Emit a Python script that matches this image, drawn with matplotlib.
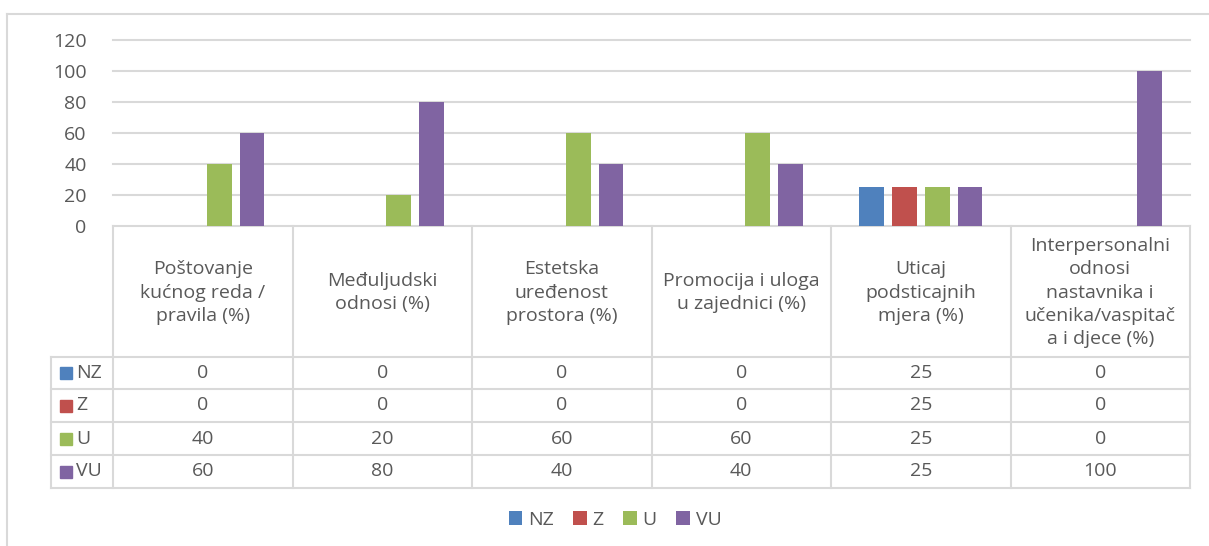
import numpy as np
import matplotlib.pyplot as plt
from matplotlib.lines import Line2D
from matplotlib.patches import Rectangle

plt.rc('font', family=['Open Sans', 'DejaVu Sans'], size=14)

kategorije = ['Poštovanje\nkućnog reda /\npravila (%)',
              'Međuljudski\nodnosi (%)',
              'Estetska\nuređenost\nprostora (%)',
              'Promocija i uloga\nu zajednici (%)',
              'Uticaj\npodsticajnih\nmjera (%)',
              'Interpersonalni\nodnosi\nnastavnika i\nučenika/vaspitač\na i djece (%)']
serije = ['NZ', 'Z', 'U', 'VU']
nz = [0, 0, 0, 0, 25, 0]
z = [0, 0, 0, 0, 25, 0]
u = [40, 20, 60, 60, 25, 0]
vu = [60, 80, 40, 40, 25, 100]
boje = ['#4F81BD', '#C0504D', '#9BBB59', '#8064A2']
y_ticks = [0, 20, 40, 60, 80, 100, 120]

vrijednosti = [nz, z, u, vu]
siva = '#D9D9D9'
tekst = '#595959'
fs = 14

W, H = 1209, 546
fig = plt.figure(figsize=(W / 100, H / 100), dpi=100)

# pixel layout of the Excel chart
x0, x1 = 113, 1190
y_top, y_zero = 40, 226
red_y = [357, 389, 422, 455, 488]
lab_x = 51

ax = fig.add_axes([x0 / W, 1 - y_zero / H, (x1 - x0) / W, (y_zero - y_top) / H])
n = len(kategorije)
x = np.arange(n)
sirina = 0.139
korak = 0.183
bars = []
for i, (naziv, vals) in enumerate(zip(serije, vrijednosti)):
    b = ax.bar(x + (i - 1.5) * korak, vals, sirina, color=boje[i], label=naziv, zorder=3)
    bars.append(b)
ax.set_xlim(-0.5, n - 0.5)
ax.set_ylim(0, 120)
ax.set_yticks(y_ticks)
ax.set_xticks([])
for t in y_ticks:
    ax.axhline(t, color=siva, lw=1.5, zorder=1, clip_on=False)
for s in ax.spines.values():
    s.set_visible(False)
ax.tick_params(axis='y', length=0, pad=19, colors=tekst, labelsize=fs)
ax.patch.set_alpha(0)

# table overlay in pixel coordinates
tab = fig.add_axes([0, 0, 1, 1], zorder=0)
tab.set_xlim(0, W)
tab.set_ylim(H, 0)
tab.axis('off')

# chart border
tab.add_line(Line2D([7, 7], [14, H], color=siva, lw=1.5))
tab.add_line(Line2D([7, W], [14, 14], color=siva, lw=1.5))

cw = (x1 - x0) / n
for i in range(n + 1):
    xx = x0 + i * cw
    tab.add_line(Line2D([xx, xx], [y_zero, red_y[-1]], color=siva, lw=1.5))
tab.add_line(Line2D([lab_x, lab_x], [red_y[0], red_y[-1]], color=siva, lw=1.5))
for yy in red_y:
    tab.add_line(Line2D([lab_x, x1], [yy, yy], color=siva, lw=1.5))

for i, kat in enumerate(kategorije):
    cx = x0 + (i + 0.5) * cw
    tab.text(cx, (y_zero + red_y[0]) / 2 + 1, kat, ha='center', va='center',
             color=tekst, fontsize=fs, linespacing=1.38)

for r, (naziv, vals) in enumerate(zip(serije, vrijednosti)):
    cy = (red_y[r] + red_y[r + 1]) / 2
    tab.add_patch(Rectangle((60, cy - 6), 12, 12, color=boje[r]))
    tab.text(76, cy, naziv, ha='left', va='center', color=tekst, fontsize=fs)
    for i, v in enumerate(vals):
        cx = x0 + (i + 0.5) * cw
        tab.text(cx, cy, str(v), ha='center', va='center', color=tekst, fontsize=fs)

fig.legend(handles=[b[0] for b in bars], labels=serije, loc='center',
           bbox_to_anchor=(615 / W, 1 - 520 / H), ncol=4, frameon=False,
           handlelength=0.7, handleheight=0.7, handletextpad=0.3,
           columnspacing=1.0, labelcolor=tekst, fontsize=fs)

fig.savefig('out.png', dpi=100)
